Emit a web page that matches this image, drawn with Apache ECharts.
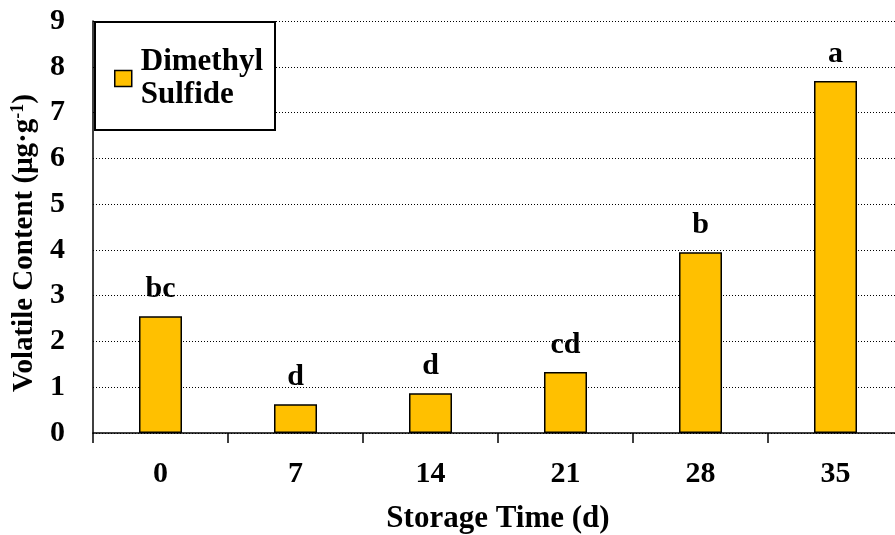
<!DOCTYPE html>
<html>
<head>
<meta charset="utf-8">
<script src="https://cdn.jsdelivr.net/npm/echarts@6/dist/echarts.min.js"></script>
<style>html,body{margin:0;padding:0;background:#fff}#c{width:895px;height:535px}</style>
</head>
<body>
<div id="c"></div>
<script>
var categories = ['0', '7', '14', '21', '28', '35'];
var values = [2.55, 0.63, 0.87, 1.33, 3.95, 7.69];
var letters = ['bc', 'd', 'd', 'cd', 'b', 'a'];
var seriesName = 'Dimethyl Sulfide';
var yMin = 0, yMax = 9, yInterval = 1;

var FONT = '"Liberation Serif", "Times New Roman", serif';
var chart = echarts.init(document.getElementById('c'), null, {renderer: 'canvas'});
chart.setOption({
  animation: false,
  backgroundColor: '#fff',
  grid: {left: 93, top: 21, width: 810, height: 412, containLabel: false, outerBoundsMode: 'none'},
  graphic: [{
    type: 'rect', z: 50,
    shape: {x: 95, y: 22, width: 180, height: 108},
    style: {fill: '#fff', stroke: '#000', lineWidth: 2}
  }],
  legend: {
    show: true, left: 114, top: 29, padding: 0, z: 60,
    icon: 'rect', itemWidth: 17, itemHeight: 16, itemGap: 0,
    formatter: function () { return 'Dimethyl\nSulfide'; },
    itemStyle: {borderColor: '#000', borderWidth: 1.5},
    textStyle: {fontFamily: FONT, fontWeight: 'bold', fontSize: 31, color: '#000', lineHeight: 33, padding: [33, 0, 0, 4]}
  },
  xAxis: {
    type: 'category', data: categories,
    name: 'Storage Time (d)', nameLocation: 'middle', nameGap: 70,
    nameTextStyle: {fontFamily: FONT, fontWeight: 'bold', fontSize: 31, color: '#000'},
    axisLine: {lineStyle: {color: '#000', width: 1.5}},
    axisTick: {show: true, alignWithLabel: false, inside: false, length: 10, lineStyle: {color: '#000', width: 1.5}},
    axisLabel: {fontFamily: FONT, fontWeight: 'bold', fontSize: 30, color: '#000', margin: 26},
    splitLine: {show: false}
  },
  yAxis: {
    type: 'value', min: yMin, max: yMax, interval: yInterval,
    name: '{t|Volatile Content (μg·g}{s|-1}{t|)}', nameLocation: 'middle', nameRotate: 90, nameGap: 53,
    nameTextStyle: {
      fontFamily: FONT, fontWeight: 'bold', fontSize: 29, color: '#000', padding: [0, 32, 0, 0],
      rich: {
        t: {fontFamily: FONT, fontWeight: 'bold', fontSize: 29, color: '#000'},
        s: {fontFamily: FONT, fontWeight: 'bold', fontSize: 18, color: '#000', verticalAlign: 'top', padding: [0, 0, 12, 0]}
      }
    },
    axisLine: {show: true, lineStyle: {color: '#000', width: 1.5}},
    axisTick: {show: false},
    axisLabel: {fontFamily: FONT, fontWeight: 'bold', fontSize: 30, color: '#000', margin: 28},
    splitLine: {show: true, lineStyle: {color: '#000', width: 1, type: [1, 2]}}
  },
  series: [{
    name: seriesName, type: 'bar', data: values, barWidth: 43,
    itemStyle: {color: '#FFC000', borderColor: '#000', borderWidth: 1.5},
    label: {
      show: true, position: 'top', distance: 12,
      formatter: function (p) { return letters[p.dataIndex]; },
      fontFamily: FONT, fontWeight: 'bold', fontSize: 30, color: '#000'
    }
  }]
});
</script>
</body>
</html>
